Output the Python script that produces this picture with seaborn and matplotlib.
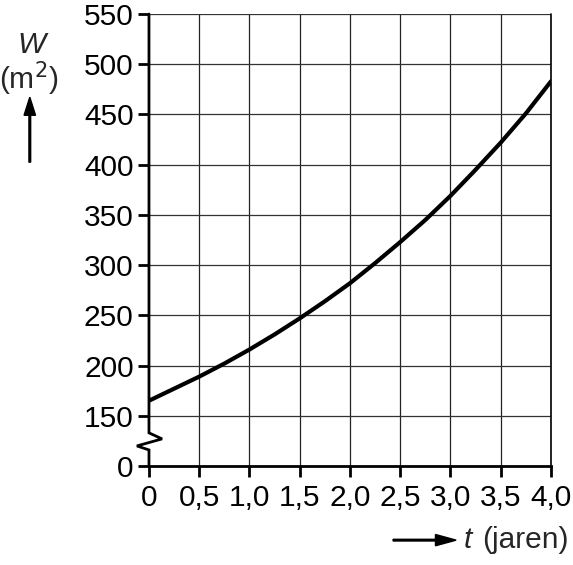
import matplotlib
matplotlib.use("Agg")
import matplotlib.pyplot as plt
import numpy as np
import pandas as pd
import seaborn as sns

# values (t in years, W in m2)
t_years = [0.0, 0.25, 0.5, 0.75, 1.0, 1.25, 1.5, 1.75, 2.0,
           2.25, 2.5, 2.75, 3.0, 3.25, 3.5, 3.75, 4.0]
w_area = [165, 177, 189, 202, 216, 231, 247, 264, 282,
          302, 323, 345, 369, 395, 422, 451, 483]

x_ticks = [0, 0.5, 1.0, 1.5, 2.0, 2.5, 3.0, 3.5, 4.0]
x_labels = ["0", "0,5", "1,0", "1,5", "2,0", "2,5", "3,0", "3,5", "4,0"]
y_ticks = [150, 200, 250, 300, 350, 400, 450, 500, 550]

# the axis is broken between 0 and 150: 0 sits one grid step below 150
BREAK_POS = 100

sns.set_theme(style="white")
plt.rcParams["font.family"] = ["Liberation Sans", "DejaVu Sans"]

df = pd.DataFrame({"t": t_years, "W": w_area})

fig = plt.figure(figsize=(5.73, 5.65), dpi=100)
ax = fig.add_axes([0.260, 0.1752, 0.7016, 0.8000])

# grid
for x in x_ticks[1:]:
    ax.axvline(x, color="#222222", lw=0.9, zorder=1)
for y in y_ticks:
    ax.axhline(y, color="#333333", lw=0.9, zorder=1)

sns.lineplot(data=df, x="t", y="W", color="black", lw=3, ax=ax, zorder=3)

ax.set_xlim(0, 4)
ax.set_ylim(BREAK_POS, 550)
ax.set_xticks(x_ticks)
ax.set_xticklabels(x_labels)
ax.set_yticks([BREAK_POS] + y_ticks)
ax.set_yticklabels(["0"] + [str(v) for v in y_ticks])
ax.set_xlabel("")
ax.set_ylabel("")
ax.tick_params(axis="both", which="both", direction="out", length=8, width=2,
               color="black", labelsize=21.5, labelcolor="black", pad=3,
               left=True, bottom=True)
ax.tick_params(axis="x", pad=5)

for side in ["top", "right"]:
    ax.spines[side].set_visible(False)
ax.spines["left"].set_visible(False)
ax.spines["bottom"].set_color("black")
ax.spines["bottom"].set_linewidth(2)
ax.plot([4, 4], [BREAK_POS, 550], color="black", lw=1.2, clip_on=False, zorder=2)

# left axis with the zigzag break
ax.plot([0, 0, 0.13, -0.12, 0, 0], [550, 133, 127, 120, 116, BREAK_POS],
        color="black", lw=2, clip_on=False, zorder=4, solid_joinstyle="miter")

# axis titles
fig.text(0.055, 0.920, "W", fontsize=21.5, style="italic", ha="center", va="center")
fig.text(0.050, 0.860, "(m$^2$)", fontsize=21.5, ha="center", va="center")
fig.patches.append(matplotlib.patches.FancyArrow(
    0.052, 0.713, 0, 0.115, width=0.003, head_width=0.02, head_length=0.032,
    color="black", transform=fig.transFigure, length_includes_head=True))

fig.patches.append(matplotlib.patches.FancyArrow(
    0.686, 0.044, 0.11, 0, width=0.003, head_width=0.02, head_length=0.036,
    color="black", transform=fig.transFigure, length_includes_head=True))
fig.text(0.810, 0.044, "t", fontsize=21.5, style="italic", ha="left", va="center")
fig.text(0.842, 0.044, "(jaren)", fontsize=21.5, ha="left", va="center")

fig.savefig("out.png", dpi=100, facecolor="white")
